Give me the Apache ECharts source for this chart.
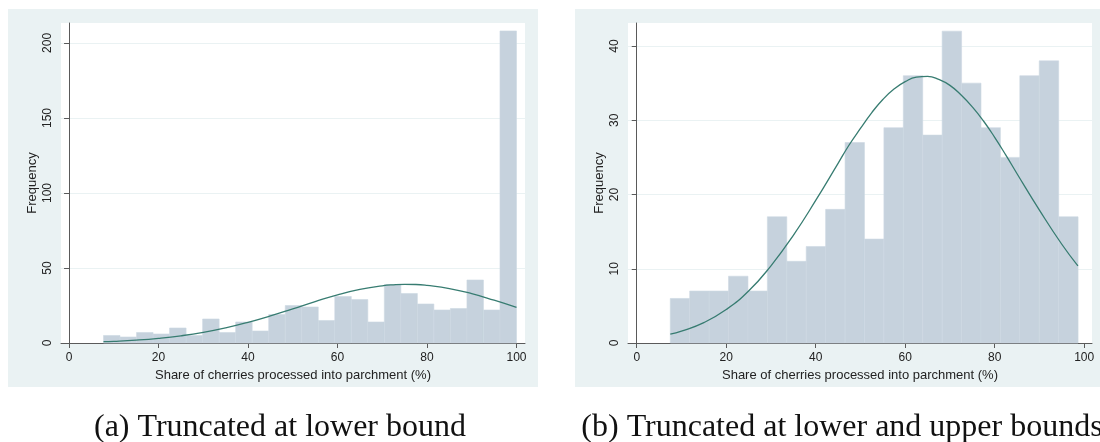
<!DOCTYPE html>
<html>
<head>
<meta charset="utf-8">
<script src="https://cdn.jsdelivr.net/npm/echarts@6/dist/echarts.min.js"></script>
<style>
  html, body { margin: 0; padding: 0; background: #fff; }
  #chart { width: 1100px; height: 442px; }
</style>
</head>
<body>
<div id="chart"></div>
<script>
// (a) truncated at lower bound: 25 bins from 7.7 to 100
const binStartA = 7.7
const binWidthA = 3.692
const countsA = [5, 4, 7, 6, 10, 5, 16, 7, 14, 8, 19, 25, 24, 15, 31, 29, 14, 39, 33, 26, 22, 23, 42, 22, 208]
const curveXA = [7.7, 10, 15, 20, 25, 30, 35, 40, 45, 50, 55, 60, 65, 70, 72.5, 75, 77.5, 80, 85, 90, 95, 100]
const curveYA = [0.9, 1.1, 1.9, 3.1, 4.8, 7.1, 10.1, 13.8, 18.1, 22.8, 27.6, 32.1, 35.7, 38.1, 38.8, 39.1, 39.0, 38.4, 36.3, 32.9, 28.5, 23.7]

// (b) truncated at lower and upper bounds: 21 bins from 7.5
const binStartB = 7.5
const binWidthB = 4.34
const countsB = [6, 7, 7, 9, 7, 17, 11, 13, 18, 27, 14, 29, 36, 28, 42, 35, 29, 25, 36, 38, 17]
const curveXB = [7.5, 10, 15, 20, 25, 30, 35, 40, 45, 47.5, 50, 52.5, 55, 57.5, 60, 62.5, 65, 67.5, 70, 72.5, 75, 77.5, 80, 82.5, 85, 90, 95, 98.6]
const curveYB = [1.2, 1.6, 2.75, 4.5, 7.0, 10.4, 14.5, 19.2, 24.2, 26.7, 28.9, 31.0, 32.8, 34.2, 35.2, 35.8, 35.9, 35.5, 34.7, 33.4, 31.8, 29.9, 27.7, 25.3, 22.8, 17.9, 13.3, 10.4]

const xTicks = [0, 20, 40, 60, 80, 100]
const yTicksA = [0, 50, 100, 150, 200]
const yTicksB = [0, 10, 20, 30, 40]

const xTitle = 'Share of cherries processed into parchment (%)'
const captionA = '(a) Truncated at lower bound'
const captionB = '(b) Truncated at lower and upper bounds'

const PANEL_BG = '#eaf2f3'
const BAR_FILL = '#c6d2dd'
const CURVE = '#377c71'
const AXIS = '#5a5a5a'
const FONT = '"Liberation Sans", Arial, sans-serif'
const SERIF = '"Liberation Serif", "DejaVu Serif", serif'

function binData(start, width, counts) {
  return counts.map((c, i) => [start + i * width, start + (i + 1) * width, c])
}

function renderBin(params, api) {
  const p0 = api.coord([api.value(0), 0])
  const p1 = api.coord([api.value(1), api.value(2)])
  return {
    type: 'rect',
    shape: { x: p0[0], y: p1[1], width: p1[0] - p0[0], height: p0[1] - p1[1] },
    style: { fill: BAR_FILL, stroke: '#cdd8e2', lineWidth: 0.6 },
  }
}

function xAxisCfg(gridIndex, min, max) {
  return {
    type: 'value', gridIndex, min, max,
    name: xTitle, nameLocation: 'middle', nameGap: 21,
    nameTextStyle: { fontFamily: FONT, fontSize: 13, color: '#222' },
    axisLine: { show: true, onZero: false, lineStyle: { color: AXIS, width: 1 } },
    axisTick: { show: true, length: 5, customValues: xTicks, lineStyle: { color: AXIS } },
    axisLabel: { customValues: xTicks, margin: 9, fontFamily: FONT, fontSize: 12, color: '#222' },
    splitLine: { show: false },
  }
}

function yAxisCfg(gridIndex, max, ticks) {
  return {
    type: 'value', gridIndex, min: 0, max,
    name: 'Frequency', nameLocation: 'middle', nameGap: 22,
    nameTextStyle: { fontFamily: FONT, fontSize: 13, color: '#222' },
    axisLine: { show: true, lineStyle: { color: AXIS, width: 1 } },
    axisTick: { show: true, length: 5, customValues: ticks, lineStyle: { color: AXIS } },
    axisLabel: { customValues: ticks, rotate: 90, margin: 7, fontFamily: FONT, fontSize: 12, color: '#222' },
    splitLine: { show: true, lineStyle: { color: PANEL_BG, width: 1 } },
  }
}

const chart = echarts.init(document.getElementById('chart'), null, { renderer: 'canvas' })

chart.setOption({
  animation: false,
  backgroundColor: '#fff',
  graphic: [
    { type: 'rect', z: -100, shape: { x: 8, y: 9, width: 530, height: 378 }, style: { fill: PANEL_BG } },
    { type: 'rect', z: -100, shape: { x: 575, y: 9, width: 530, height: 378 }, style: { fill: PANEL_BG } },
  ],
  title: [
    { text: captionA, left: 275, top: 407, textAlign: 'center',
      textStyle: { fontFamily: SERIF, fontWeight: 'normal', fontSize: 32, color: '#111' } },
    { text: captionB, left: 837, top: 407, textAlign: 'center',
      textStyle: { fontFamily: SERIF, fontWeight: 'normal', fontSize: 32, color: '#111' } },
  ],
  grid: [
    { left: 61, top: 23, width: 464, height: 320, show: true, backgroundColor: '#fff', borderWidth: 0 },
    { left: 628, top: 23, width: 464, height: 320, show: true, backgroundColor: '#fff', borderWidth: 0 },
  ],
  xAxis: [xAxisCfg(0, -1.8, 101.9), xAxisCfg(1, -1.95, 101.75)],
  yAxis: [yAxisCfg(0, 213.3, yTicksA), yAxisCfg(1, 43.1, yTicksB)],
  series: [
    { type: 'custom', xAxisIndex: 0, yAxisIndex: 0, renderItem: renderBin,
      encode: { x: [0, 1], y: 2 }, data: binData(binStartA, binWidthA, countsA) },
    { type: 'line', xAxisIndex: 0, yAxisIndex: 0, smooth: true, showSymbol: false, z: 5,
      lineStyle: { color: CURVE, width: 1.3 },
      data: curveXA.map((x, i) => [x, curveYA[i]]) },
    { type: 'custom', xAxisIndex: 1, yAxisIndex: 1, renderItem: renderBin,
      encode: { x: [0, 1], y: 2 }, data: binData(binStartB, binWidthB, countsB) },
    { type: 'line', xAxisIndex: 1, yAxisIndex: 1, smooth: true, showSymbol: false, z: 5,
      lineStyle: { color: CURVE, width: 1.3 },
      data: curveXB.map((x, i) => [x, curveYB[i]]) },
  ],
})
</script>
</body>
</html>
